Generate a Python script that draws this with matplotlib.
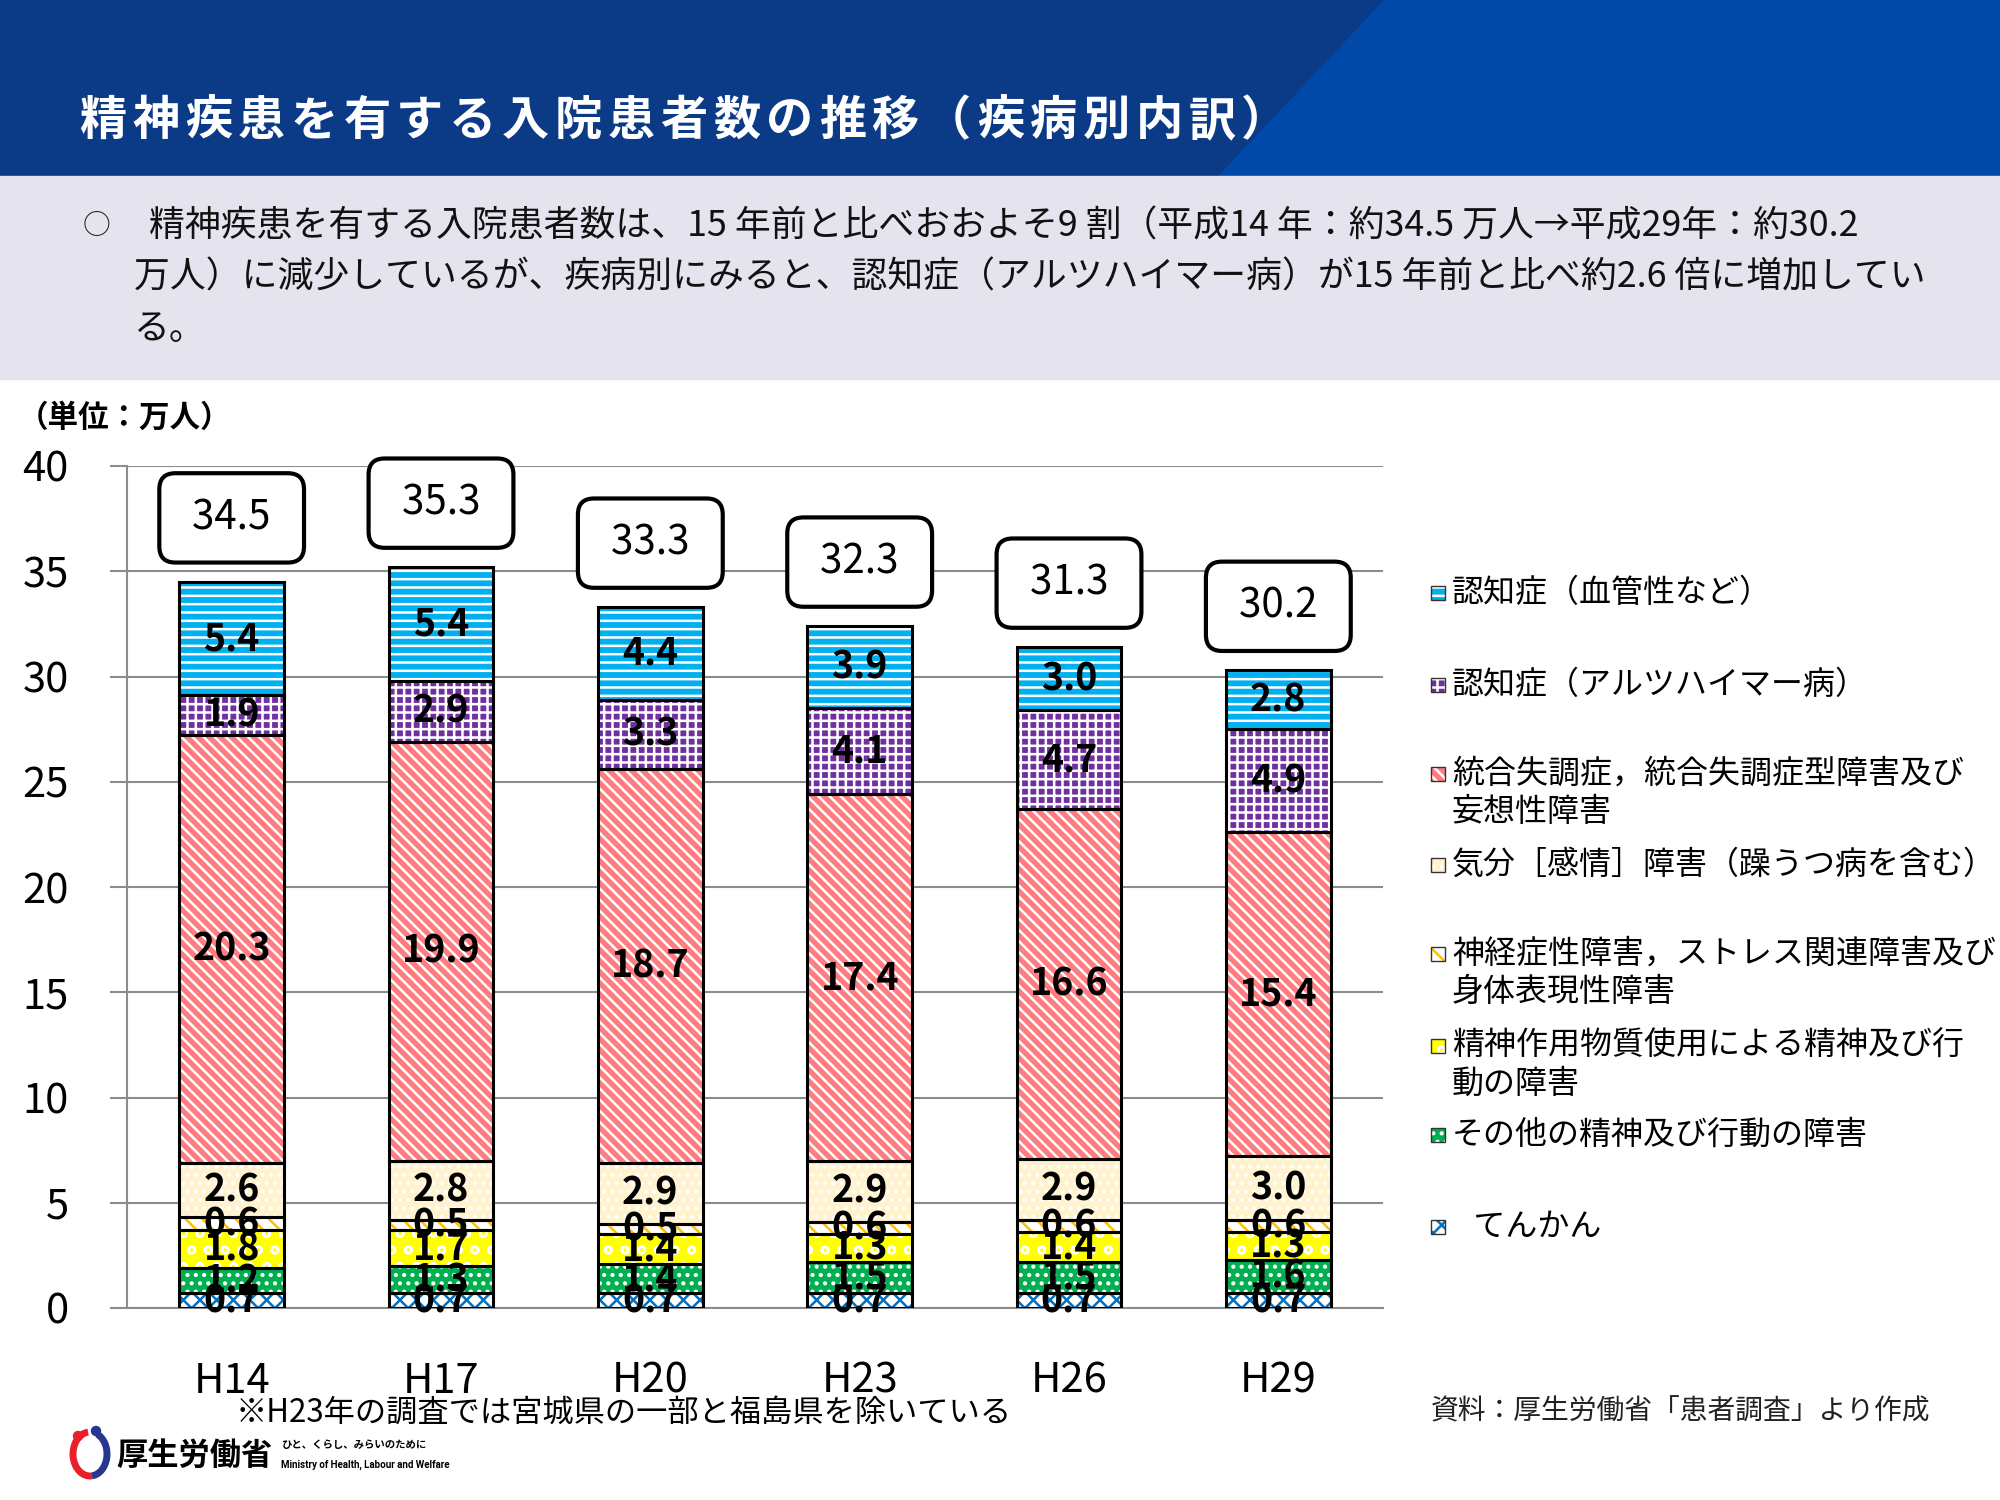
import matplotlib
matplotlib.use("Agg")
import matplotlib.pyplot as plt
import numpy as np
from matplotlib.patches import Rectangle, Polygon, Arc, Circle

plt.rcParams['font.family'] = ['Noto Sans CJK JP', 'DejaVu Sans']
plt.rcParams['hatch.linewidth'] = 1.8

W, H = 2000, 1500

# ---- data (万人) ----
years = ['H14', 'H17', 'H20', 'H23', 'H26', 'H29']
tenkan = [0.7, 0.7, 0.7, 0.7, 0.7, 0.7]
sonota = [1.2, 1.3, 1.4, 1.5, 1.5, 1.6]
seishin_sayo = [1.8, 1.7, 1.4, 1.3, 1.4, 1.3]
shinkei = [0.6, 0.5, 0.5, 0.6, 0.6, 0.6]
kibun = [2.6, 2.8, 2.9, 2.9, 2.9, 3.0]
togo = [20.3, 19.9, 18.7, 17.4, 16.6, 15.4]
alz = [1.9, 2.9, 3.3, 4.1, 4.7, 4.9]
kekkan = [5.4, 5.4, 4.4, 3.9, 3.0, 2.8]
totals = [34.5, 35.3, 33.3, 32.3, 31.3, 30.2]

# bottom -> top
series = [tenkan, sonota, seishin_sayo, shinkei, kibun, togo, alz, kekkan]
# (face, hatch colour, hatch)
styles = [
    ('white', '#0070C0', 'xx'),
    ('#00B050', 'white', '..'),
    ('#FFFF00', 'white', 'o'),
    ('white', '#FFC000', '\\\\'),
    ('#FFF2CC', 'white', '..'),
    ('#FF7C80', 'white', '\\\\\\'),
    ('#7030A0', 'white', '++'),
    ('#00B0F0', 'white', '--'),
]
legend_labels = [
    ['認知症（血管性など）'],
    ['認知症（アルツハイマー病）'],
    ['統合失調症，統合失調症型障害及び', '妄想性障害'],
    ['気分［感情］障害（躁うつ病を含む）'],
    ['神経症性障害，ストレス関連障害及び', '身体表現性障害'],
    ['精神作用物質使用による精神及び行', '動の障害'],
    ['その他の精神及び行動の障害'],
    ['   てんかん'],
]


def fx(x):
    return x / W


def fy(y):
    return 1 - y / H


fig = plt.figure(figsize=(20, 15), dpi=100)

# ---- header ----
fig.patches.append(Rectangle((0, fy(176)), 1, 176 / H, transform=fig.transFigure,
                             color='#0B3A86', zorder=0))
fig.patches.append(Polygon([(fx(1384), 1), (1, 1), (1, fy(176)), (fx(1218), fy(176))],
                           closed=True, transform=fig.transFigure, color='#0049A8', zorder=0))
fig.patches.append(Rectangle((0, fy(379)), 1, 203 / H, transform=fig.transFigure,
                             color='#E4E3EE', zorder=0))

title = '精神疾患を有する入院患者数の推移（疾病別内訳）'
for k, ch in enumerate(title):
    fig.text(fx(79 + 24 + k * 52.8), fy(121), ch, color='white', fontsize=34,
             fontweight='bold', ha='center', va='center')

fig.text(fx(83), fy(226), '○', fontsize=20, ha='left', va='center', color='#222222')
sub_lines = [
    (149, 226, '精神疾患を有する入院患者数は、15 年前と比べおおよそ9 割（平成14 年：約34.5 万人→平成29年：約30.2'),
    (134, 277, '万人）に減少しているが、疾病別にみると、認知症（アルツハイマー病）が15 年前と比べ約2.6 倍に増加してい'),
    (134, 329, 'る。'),
]
for x, y, s in sub_lines:
    fig.text(fx(x), fy(y), s, fontsize=25.8, ha='left', va='center', color='#111111')

# ---- chart ----
ax = fig.add_axes([fx(127), fy(1308), 1256 / W, 842 / H])
x = np.arange(len(years))
bottom = np.zeros(len(years))
for vals, (fc, hc, hatch) in zip(series, styles):
    vals = np.array(vals)
    ax.bar(x, vals, 0.5, bottom=bottom, color=fc, edgecolor=hc, hatch=hatch,
           linewidth=0, zorder=2)
    ax.bar(x, vals, 0.5, bottom=bottom, fill=False, edgecolor='black',
           linewidth=2.2, zorder=3)
    for xi, v, b in zip(x, vals, bottom):
        ax.text(xi, b + v / 2, f'{v:.1f}', ha='center', va='center', fontsize=27,
                fontweight='bold', color='black', zorder=5)
    bottom = bottom + vals

for xi, top, t in zip(x, bottom, totals):
    ax.annotate(f' {t:.1f} ', xy=(xi, top), xytext=(0, 46), textcoords='offset points',
                ha='center', va='center', fontsize=29, zorder=6,
                bbox=dict(boxstyle='round,pad=0.6,rounding_size=0.4', fc='white',
                          ec='black', lw=3))

ax.set_xlim(-0.5, 5.5)
ax.set_ylim(0, 40)
ax.set_yticks(np.arange(0, 41, 5))
ax.set_xticks(x)
ax.set_xticklabels(years)
ax.grid(axis='y', color='#8C8C8C', linewidth=1.5, zorder=0)
ax.set_axisbelow(True)
for s in ['top', 'right']:
    ax.spines[s].set_visible(False)
ax.spines['left'].set_color('#8C8C8C')
ax.spines['left'].set_linewidth(1.5)
ax.spines['bottom'].set_color('#8C8C8C')
ax.spines['bottom'].set_linewidth(1.5)
ax.tick_params(axis='y', length=12, width=1.5, color='#8C8C8C', pad=30, labelsize=30)
ax.tick_params(axis='x', length=0, pad=38, labelsize=30)

fig.text(fx(18), fy(418), '（単位：万人）', fontsize=22, fontweight='bold', ha='left', va='center')

# ---- legend (drawn by hand: Excel gives every entry the same slot) ----
leg_y = [593, 685, 774, 865, 954, 1046, 1135, 1227]
for (fc, hc, hatch), lines, ly in zip(styles[::-1], legend_labels, leg_y):
    fig.patches.append(Rectangle((fx(1431), fy(ly + 7)), 14 / W, 14 / H,
                                 transform=fig.transFigure, facecolor=fc,
                                 edgecolor=hc, hatch=hatch, linewidth=0))
    fig.patches.append(Rectangle((fx(1431), fy(ly + 7)), 14 / W, 14 / H,
                                 transform=fig.transFigure, fill=False,
                                 edgecolor='#333333', linewidth=1))
    for k, line in enumerate(lines):
        fig.text(fx(1452), fy(ly + k * 38), line, fontsize=23, ha='left', va='center')

# ---- notes ----
fig.text(fx(236), fy(1413), '※H23年の調査では宮城県の一部と福島県を除いている', fontsize=22.5,
         ha='left', va='center')
fig.text(fx(1431), fy(1411), '資料：厚生労働省「患者調査」より作成', fontsize=20,
         ha='left', va='center', color='#222222')

# ---- ministry logo ----
lax = fig.add_axes([fx(66), fy(1480), 50 / W, 56 / H])
lax.set_xlim(0, 50)
lax.set_ylim(0, 56)
lax.axis('off')
lax.add_patch(Arc((24, 26), 34, 44, theta1=95, theta2=275, color='#E8202A', lw=5))
lax.add_patch(Arc((24, 26), 34, 44, theta1=-85, theta2=70, color='#27378F', lw=5))
lax.add_patch(Circle((12, 44), 4.5, color='#E8202A'))
lax.add_patch(Circle((30, 49), 4.5, color='#27378F'))
fig.text(fx(116), fy(1456), '厚生労働省', fontsize=22.5, fontweight='bold', ha='left', va='center')
fig.text(fx(281), fy(1445), 'ひと、くらし、みらいのために', fontsize=7.5, fontweight='bold',
         ha='left', va='center')
fig.text(fx(281), fy(1465), 'Ministry of Health, Labour and Welfare', fontsize=7,
         fontweight='bold', family=['Roboto', 'DejaVu Sans'], ha='left', va='center')

fig.savefig('out.png', dpi=100)
